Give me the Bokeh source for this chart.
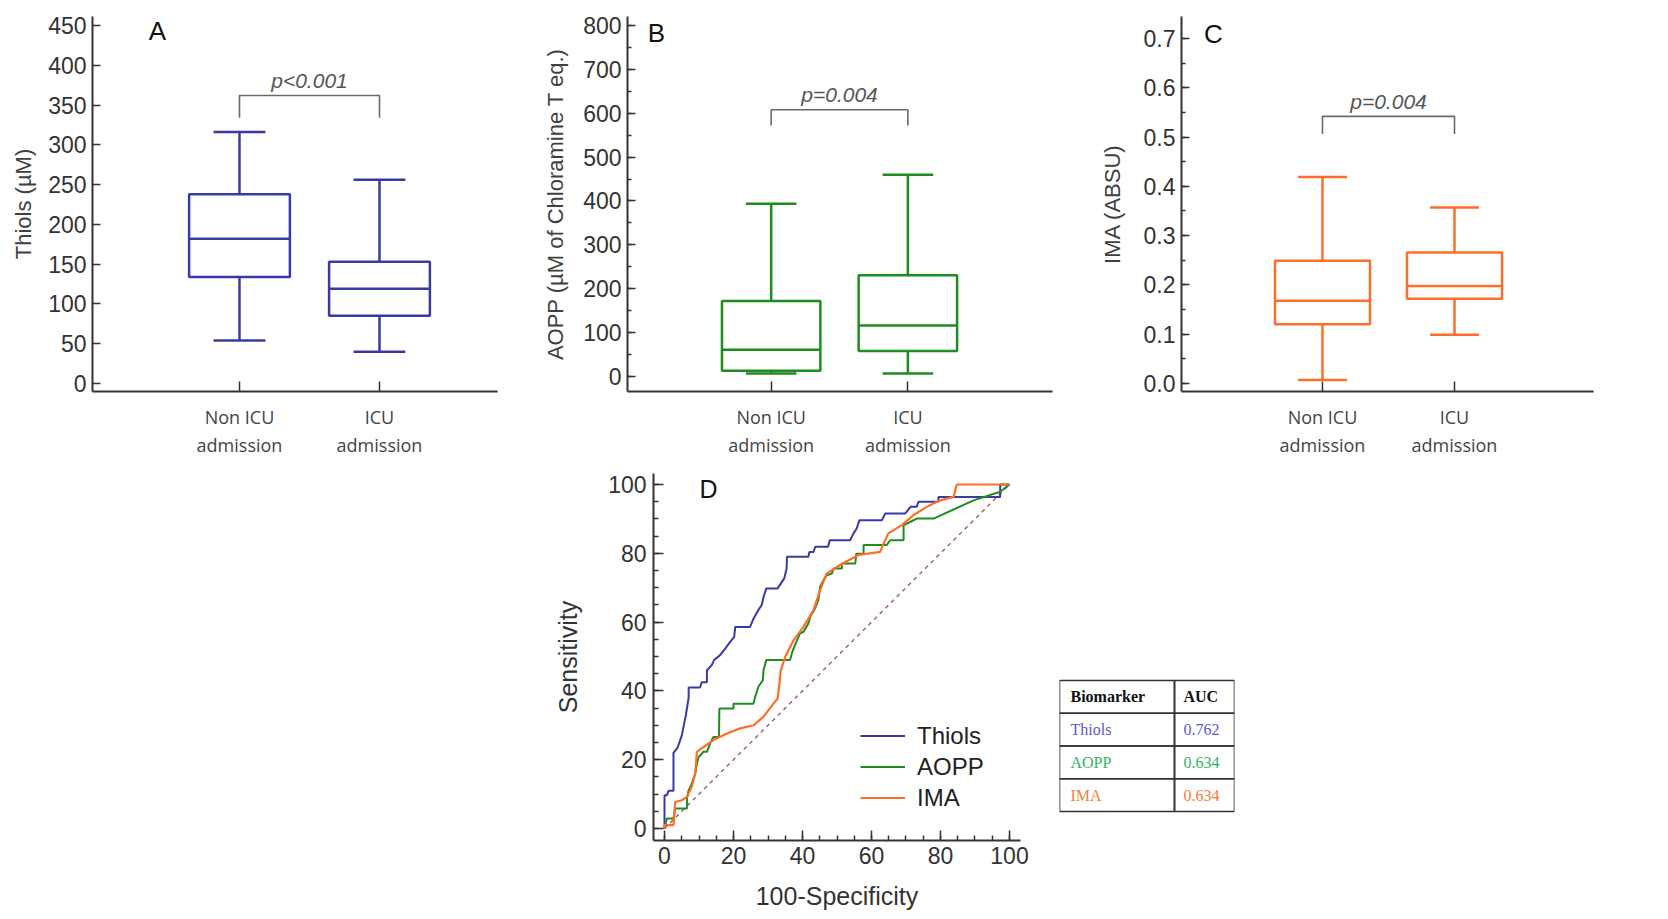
from bokeh.plotting import figure
from bokeh.models import (ColumnDataSource, SingleIntervalTicker, PrintfTickFormatter,
                          Legend, LegendItem, Range1d, Spacer)
from bokeh.layouts import row, column
from bokeh.embed import file_html
from bokeh.resources import INLINE
from bokeh.core.properties import value

# ---------------- data ----------------
group_labels = ["Non ICU\nadmission", "ICU\nadmission"]
group_pos = [1, 2]

thiols_low = [54, 40]
thiols_q1 = [134, 85]
thiols_med = [182, 119]
thiols_q3 = [238, 153]
thiols_high = [316, 256]
thiols_bracket = [334, 362]   # bracket foot, bracket top
thiols_p = "p<0.001"

aopp_low = [7, 7]
aopp_q1 = [13, 58]
aopp_med = [61, 116]
aopp_q3 = [172, 231]
aopp_high = [394, 460]
aopp_bracket = [572, 608]
aopp_p = "p=0.004"

ima_low = [0.007, 0.099]
ima_q1 = [0.120, 0.172]
ima_med = [0.168, 0.198]
ima_q3 = [0.249, 0.266]
ima_high = [0.419, 0.357]
ima_bracket = [0.506, 0.542]
ima_p = "p=0.004"

roc_thiols_x = [0, 0, 0.7, 1.2, 2.6, 2.6, 3.8, 5, 6.2, 7, 7, 10.3, 10.8, 12.3, 12.3, 13.7, 14.4, 16.1,
                17.6, 18.7, 20.2, 20.5, 24.8, 25.8, 27.2, 28.2, 28.7, 29.5, 32.8, 34.7, 35.4, 35.5,
                41.7, 42, 43.2, 43.7, 47.4, 47.9, 53.8, 54.8, 55.7, 56.5, 63, 64, 69.8, 71.3, 73.1,
                73.6, 79.4, 79.4, 97.3, 97.3, 100]
roc_thiols_y = [0, 9.7, 9.7, 11, 11, 22, 23.5, 27, 33, 38, 41, 41, 42.5, 42.5, 46, 47.5, 49, 50.4,
                52.3, 53.8, 55.7, 58.6, 58.6, 61, 63.5, 65, 67.3, 69.8, 69.8, 72.7, 75.6, 79,
                79, 80.4, 80.4, 81.9, 81.9, 83.8, 83.8, 85.8, 87.2, 89.6, 89.6, 91.6, 91.6, 93.5, 93.5,
                95, 95, 96.4, 96.4, 100, 100]

roc_aopp_x = [0, 0.7, 2.6, 3.1, 6.5, 6.5, 7, 7.9, 8.9, 9.4, 9.9, 11.3, 12.3, 13.2, 14.2, 15.8, 15.9,
              20, 20, 25.8, 26.3, 27.2, 28.5, 28.7, 29.5, 36.4, 36.9, 37.6, 38.4, 39.3, 40.3, 41.7,
              42.2, 43.4, 44.6, 45.1, 46.1, 47, 48.5, 49, 51.4, 51.4, 55.3, 55.6, 57.7, 57.7, 64.4,
              65.4, 69.3, 69.3, 71.2, 73.1, 78, 89.6, 97.3, 100]
roc_aopp_y = [0, 2.9, 2.9, 5.8, 5.8, 8.7, 11.1, 13, 16, 18.9, 20.8, 22.3, 22.3, 24.7, 26.6, 26.6, 34.9,
              34.9, 36.3, 36.3, 38.3, 41.2, 43.1, 46, 49, 49, 50.9, 52.8, 54.7, 56.7, 57.2, 59.6,
              61.5, 63.5, 66.4, 70.3, 72.2, 73.6, 74.1, 75.6, 75.6, 77, 77, 79.9, 79.9, 82.4, 82.4,
              83.8, 83.8, 88.2, 89.1, 90.1, 90.1, 95.4, 97.9, 100]

roc_ima_x = [0, 0, 2.6, 3.1, 5, 6.5, 7.9, 8.9, 9.4, 11.3, 14.2, 18.1, 21.9, 25.8, 28.7, 31.6, 32.8,
             33.3, 33.7, 35, 37.4, 40.3, 43.2, 45.1, 47, 50.9, 56.2, 62.5, 63.5, 64.9, 68.8, 72.2,
             76, 79.9, 83.8, 84.7, 100]
roc_ima_y = [0, 1, 1, 7.7, 8.2, 9.2, 12.1, 16, 22.3, 23.7, 25.7, 27.6, 29.1, 30, 32.5, 36.3, 37.8,
             42.2, 46, 49.9, 54.7, 58.6, 63.5, 69.3, 74.1, 76.6, 79.5, 80.4, 82.8, 85.8, 88.2, 91.1,
             93.5, 95.4, 96.4, 100, 100]

diag_x = [0, 100]
diag_y = [0, 100]

roc_names = ["Thiols", "AOPP", "IMA"]
auc_values = ["0.762", "0.634", "0.634"]
table_header = ["Biomarker", "AUC"]

# ---------------- styles ----------------
BLUE = "#3a3aa6"
GREEN = "#1f8c1f"
ORANGE = "#ff6e28"
AXIS = "#333333"
SANS = "Liberation Sans"

TOP_H, BOT_H = 464, 455
TOP_BT, TOP_BB = 16, 73      # shared frame borders of the top row
BOT_BT, BOT_BB = 9, 79       # shared frame borders of the bottom row


def style_axes(p, ylabel, y_interval, y_minor, label_standoff, tick_font="23px"):
    p.xgrid.grid_line_color = None
    p.ygrid.grid_line_color = None
    p.outline_line_color = None
    for ax in (p.xaxis[0], p.yaxis[0]):
        ax.axis_line_color = AXIS
        ax.axis_line_width = 2
        ax.major_tick_line_color = AXIS
        ax.major_tick_line_width = 1.5
        ax.minor_tick_line_color = AXIS
        ax.minor_tick_line_width = 1.5
        ax.major_tick_out = 0
        ax.minor_tick_out = 0
    ya = p.yaxis[0]
    ya.ticker = SingleIntervalTicker(interval=y_interval, num_minor_ticks=y_minor)
    ya.major_tick_in = 8
    ya.minor_tick_in = 4
    ya.major_label_text_font = SANS
    ya.major_label_text_font_size = tick_font
    ya.major_label_text_color = "#333333"
    ya.major_label_standoff = 6
    ya.axis_label = ylabel
    ya.axis_label_text_font = SANS
    ya.axis_label_text_font_size = "22px"
    ya.axis_label_text_font_style = "normal"
    ya.axis_label_text_color = "#404040"
    ya.axis_label_standoff = label_standoff


def box_panel(width, lr, xr, yr, color, stats, bracket, ptext, letter, letter_xy,
              ylabel, y_interval, y_minor, label_standoff, formatter=None):
    low, q1, med, q3, high = stats
    p = figure(width=width, height=TOP_H, output_backend="svg", toolbar_location=None,
               x_range=Range1d(*xr), y_range=Range1d(*yr),
               min_border_left=lr[0], min_border_right=lr[1],
               min_border_top=TOP_BT, min_border_bottom=TOP_BB)
    style_axes(p, ylabel, y_interval, y_minor, label_standoff)
    if formatter is not None:
        p.yaxis[0].formatter = formatter
    xa = p.xaxis[0]
    xa.ticker = group_pos
    xa.major_label_overrides = {pos: lab for pos, lab in zip(group_pos, group_labels)}
    xa.major_tick_in = 10
    xa.minor_tick_in = 0
    xa.major_label_text_font = "Open Sans"
    xa.major_label_text_font_size = "18px"
    xa.major_label_text_color = "#444444"
    xa.major_label_standoff = 13

    bw, cw = 0.72, 0.37
    src = ColumnDataSource(dict(
        x=group_pos, low=low, q1=q1, med=med, q3=q3, high=high,
        left=[g - bw / 2 for g in group_pos], right=[g + bw / 2 for g in group_pos],
        cl=[g - cw / 2 for g in group_pos], cr=[g + cw / 2 for g in group_pos]))
    lw = 2.5
    p.segment(x0="x", y0="low", x1="x", y1="q1", source=src, line_color=color, line_width=lw)
    p.segment(x0="x", y0="q3", x1="x", y1="high", source=src, line_color=color, line_width=lw)
    p.segment(x0="cl", y0="low", x1="cr", y1="low", source=src, line_color=color, line_width=lw)
    p.segment(x0="cl", y0="high", x1="cr", y1="high", source=src, line_color=color, line_width=lw)
    p.quad(left="left", right="right", bottom="q1", top="q3", source=src,
           fill_color="white", line_color=color, line_width=lw)
    p.segment(x0="left", y0="med", x1="right", y1="med", source=src, line_color=color, line_width=lw)

    foot, top = bracket
    p.multi_line(xs=[[group_pos[0], group_pos[0], group_pos[1], group_pos[1]]],
                 ys=[[foot, top, top, foot]], line_color="#6a6a6a", line_width=1.6)
    p.text(x=[(group_pos[0] + group_pos[1]) / 2], y=[top], text=[ptext], y_offset=-15,
           text_align="center", text_baseline="middle", text_font=value(SANS),
           text_font_size="21px", text_font_style="italic", text_color="#555555")
    p.text(x=[letter_xy[0]], y=[letter_xy[1]], text=[letter], text_align="center",
           text_baseline="middle", text_font=value(SANS), text_font_size="26px",
           text_color="#111111")
    return p


pA = box_panel(540, (92, 43), (-0.05, 2.843), (-10.06, 461.3), BLUE,
               (thiols_low, thiols_q1, thiols_med, thiols_q3, thiols_high),
               thiols_bracket, thiols_p, "A", (0.414, 443.7),
               "Thiols (\u00b5M)", 50, 0, 9)
pB = box_panel(550, (86, 38), (-0.051, 3.058), (-34.2, 820.5), GREEN,
               (aopp_low, aopp_q1, aopp_med, aopp_q3, aopp_high),
               aopp_bracket, aopp_p, "B", (0.161, 782),
               "AOPP (\u00b5M of Chloramine T eq.)", 100, 2, 12)
pC = box_panel(578, (91, 75), (-0.068, 3.053), (-0.0162, 0.7446), ORANGE,
               (ima_low, ima_q1, ima_med, ima_q3, ima_high),
               ima_bracket, ima_p, "C", (0.174, 0.710),
               "IMA (ABSU)", 0.1, 2, 16, formatter=PrintfTickFormatter(format="%.1f"))

# ---------------- ROC panel ----------------
pD = figure(width=500, height=BOT_H, output_backend="svg", toolbar_location=None,
            x_range=Range1d(-3.19, 103.19), y_range=Range1d(-3.49, 103.2),
            min_border_left=113, min_border_right=20, min_border_top=BOT_BT, min_border_bottom=BOT_BB)
style_axes(pD, "Sensitivity", 20, 4, 23, tick_font="23px")
pD.yaxis[0].major_tick_in = 10
pD.yaxis[0].minor_tick_in = 5
pD.yaxis[0].major_label_standoff = 7
pD.yaxis[0].axis_label_text_font_size = "25px"
pD.yaxis[0].axis_label_text_color = "#333333"
xa = pD.xaxis[0]
xa.ticker = SingleIntervalTicker(interval=20, num_minor_ticks=4)
xa.major_tick_in = 10
xa.minor_tick_in = 5
xa.major_label_text_font = SANS
xa.major_label_text_font_size = "23px"
xa.major_label_text_color = "#333333"
xa.major_label_standoff = 6
xa.axis_label = "100-Specificity"
xa.axis_label_text_font = SANS
xa.axis_label_text_font_size = "25px"
xa.axis_label_text_font_style = "normal"
xa.axis_label_text_color = "#333333"
xa.axis_label_standoff = 15

pD.line(diag_x, diag_y, line_color="#a8646e", line_width=1.5, line_dash="4 4")
r_t = pD.line(roc_thiols_x, roc_thiols_y, line_color=BLUE, line_width=2)
r_a = pD.line(roc_aopp_x, roc_aopp_y, line_color=GREEN, line_width=2)
r_i = pD.line(roc_ima_x, roc_ima_y, line_color=ORANGE, line_width=2.2)
pD.text(x=[12.75], y=[98.8], text=["D"], text_align="center", text_baseline="middle",
        text_font=value(SANS), text_font_size="25px", text_color="#111111")

legend = Legend(items=[LegendItem(label=n, renderers=[r]) for n, r in zip(roc_names, [r_t, r_a, r_i])],
                location=(207, 27))
legend.background_fill_alpha = 0
legend.border_line_color = None
legend.label_text_font = SANS
legend.label_text_font_size = "24px"
legend.label_text_color = "#222222"
legend.glyph_width = 45
legend.glyph_height = 31
legend.label_height = 31
legend.spacing = 0
legend.padding = 0
legend.margin = 0
legend.label_standoff = 12
pD.add_layout(legend)

# ---------------- AUC table ----------------
col_edges = [0, 115, 175]
n_rows = len(roc_names) + 1
pT = figure(width=628, height=BOT_H, output_backend="svg", toolbar_location=None,
            x_range=Range1d(col_edges[0], col_edges[-1]), y_range=Range1d(-0.885, 10.32),
            x_axis_location=None, y_axis_location=None,
            min_border_left=19, min_border_right=434, min_border_top=BOT_BT, min_border_bottom=BOT_BB)
pT.xgrid.grid_line_color = None
pT.ygrid.grid_line_color = None
pT.outline_line_color = None
cells_left, cells_right, cells_bottom, cells_top = [], [], [], []
for r in range(n_rows):
    for c in range(len(col_edges) - 1):
        cells_left.append(col_edges[c])
        cells_right.append(col_edges[c + 1])
        cells_bottom.append(n_rows - r - 1)
        cells_top.append(n_rows - r)
pT.quad(left=cells_left, right=cells_right, bottom=cells_bottom, top=cells_top,
        fill_color=None, line_color="#333333", line_width=1.6)
text_colors = ["#5a5ad6", "#35b065", "#f47e3e"]
row_y = [n_rows - 0.5 - i for i in range(n_rows)]
pT.text(x=[col_edges[0] + 11, col_edges[1] + 9], y=[row_y[0]] * 2, text=table_header,
        text_baseline="middle", text_font=value("Liberation Serif"), text_font_size="16px",
        text_font_style="bold", text_color="#111111")
pT.text(x=[col_edges[0] + 11] * 3, y=row_y[1:], text=roc_names, text_color=text_colors,
        text_baseline="middle", text_font=value("Liberation Serif"), text_font_size="16px")
pT.text(x=[col_edges[1] + 9] * 3, y=row_y[1:], text=auc_values, text_color=text_colors,
        text_baseline="middle", text_font=value("Liberation Serif"), text_font_size="16px")

layout = column(row(pA, pB, pC), row(Spacer(width=540, height=BOT_H), pD, pT))
open("out.html", "w").write(file_html(layout, INLINE))
